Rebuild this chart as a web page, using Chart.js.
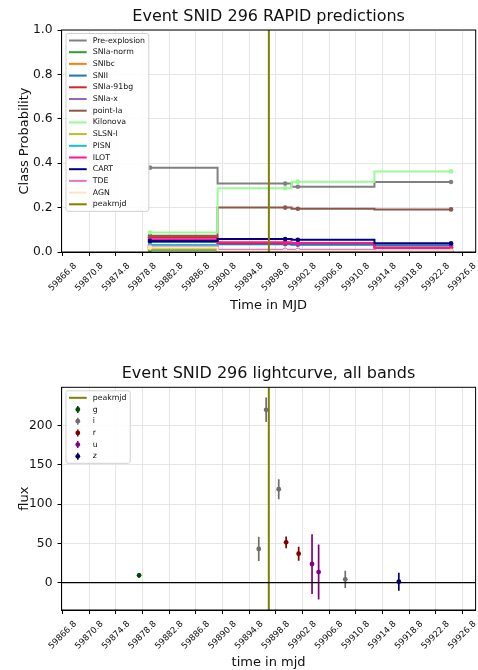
<!DOCTYPE html>
<html>
<head>
<meta charset="utf-8">
<script src="https://cdn.jsdelivr.net/npm/chart.js@4.4.0/dist/chart.umd.min.js"></script>
<style>
  html, body { margin: 0; padding: 0; background: #fff; }
  .box { position: relative; width: 478px; height: 335px; }
</style>
</head>
<body>
<div class="box"><canvas id="predChart"></canvas></div>
<div class="box"><canvas id="lcChart"></canvas></div>
<script>
// shared axis
const mjdTicks = [59866.8, 59870.8, 59874.8, 59878.8, 59882.8, 59886.8, 59890.8, 59894.8,
                  59898.8, 59902.8, 59906.8, 59910.8, 59914.8, 59918.8, 59922.8, 59926.8];
const mjdMin = 59866.62;
const mjdMax = 59928.8;
const peakMjd = 59897.75;

// RAPID predictions (one value per prediction time)
const predTimes = [59879.9, 59900.2, 59902.1, 59925.1];
const preExplosion = [0.380, 0.308, 0.294, 0.315];
const snIaNorm     = [0.010, 0.004, 0.004, 0.003];
const snIbc        = [0.020, 0.006, 0.006, 0.004];
const snII         = [0.045, 0.035, 0.033, 0.030];
const snIa91bg     = [0.066, 0.040, 0.040, 0.020];
const snIax        = [0.021, 0.009, 0.009, 0.005];
const pointIa      = [0.073, 0.200, 0.195, 0.192];
const kilonova     = [0.088, 0.287, 0.317, 0.363];
const slsnI        = [0.015, 0.003, 0.003, 0.002];
const pisn         = [0.032, 0.005, 0.005, 0.004];
const ilot         = [0.057, 0.044, 0.040, 0.018];
const cart         = [0.050, 0.058, 0.055, 0.039];
const tde          = [0.025, 0.010, 0.010, 0.006];
const agn          = [0.020, 0.005, 0.005, 0.004];

const classNames = ['Pre-explosion', 'SNIa-norm', 'SNIbc', 'SNII', 'SNIa-91bg', 'SNIa-x', 'point-Ia',
                    'Kilonova', 'SLSN-I', 'PISN', 'ILOT', 'CART', 'TDE', 'AGN'];
const classSeries = [preExplosion, snIaNorm, snIbc, snII, snIa91bg, snIax, pointIa,
                     kilonova, slsnI, pisn, ilot, cart, tde, agn];
const classColors = ['#808080', '#2ca02c', '#ff7f0e', '#1f77b4', '#d62728', '#9467bd', '#8c564b',
                     '#98fb98', '#bcbd22', '#17becf', '#ff1493', '#000080', '#e377c2', '#ffe4c4'];
const probTicks = [0, 0.2, 0.4, 0.6, 0.8, 1.0];

// lightcurve
const bandNames = ['g', 'i', 'r', 'u', 'z'];
const bandColors = ['#064706', '#6e6e6e', '#800000', '#800080', '#000066'];
const gTimes = [59878.27];
const gFlux  = [9.4];
const gErr   = [3];
const iTimes = [59896.24, 59897.35, 59899.24, 59909.23];
const iFlux  = [43, 220, 119, 4.3];
const iErr   = [15.5, 15.7, 12.7, 11];
const rTimes = [59900.35, 59902.23];
const rFlux  = [51.4, 36.9];
const rErr   = [7.4, 9];
const uTimes = [59904.24, 59905.23];
const uFlux  = [23.8, 13.6];
const uErr   = [38, 35];
const zTimes = [59917.27];
const zFlux  = [1.3];
const zErr   = [11.5];
const bandTimes = [gTimes, iTimes, rTimes, uTimes, zTimes];
const bandFlux = [gFlux, iFlux, rFlux, uFlux, zFlux];
const bandErr = [gErr, iErr, rErr, uErr, zErr];
const fluxTicks = [0, 50, 100, 150, 200];
const fluxMin = -34.7;
const fluxMax = 248.6;

const peakColor = '#808000';
const gridColor = '#e6e6e6';

Chart.defaults.font.family = 'DejaVu Sans';
Chart.defaults.color = '#111';
Chart.defaults.animation = false;

const frame = {
  id: 'frame',
  afterDatasetsDraw(chart) {
    const { ctx, chartArea: a } = chart;
    ctx.save();
    ctx.strokeStyle = '#000';
    ctx.lineWidth = 1;
    ctx.strokeRect(a.left, a.top, a.width, a.height);
    ctx.restore();
  }
};

const boxLegend = {
  id: 'boxLegend',
  afterDraw(chart) {
    const { ctx, chartArea: a } = chart;
    const items = chart.data.datasets.filter(d => d.handle);
    const rowH = 11.7;
    ctx.save();
    ctx.font = '7.8px "DejaVu Sans"';
    const textW = Math.max(...items.map(d => ctx.measureText(d.label).width));
    const left = a.left + 4.5;
    const top = a.top + 3.5;
    const w = 26.7 + textW + 3.8;
    const h = 7 + (items.length - 1) * rowH + 7;
    ctx.beginPath();
    ctx.roundRect(left, top, w, h, 2);
    ctx.fillStyle = 'rgba(255,255,255,0.85)';
    ctx.fill();
    ctx.strokeStyle = '#d0d0d0';
    ctx.lineWidth = 1;
    ctx.stroke();
    items.forEach((d, i) => {
      const cy = top + 7 + i * rowH;
      const col = d.borderColor || d.backgroundColor;
      if (d.handle === 'line') {
        ctx.strokeStyle = col;
        ctx.lineWidth = 2;
        ctx.beginPath();
        ctx.moveTo(left + 3, cy);
        ctx.lineTo(left + 20.7, cy);
        ctx.stroke();
      } else {
        const mx = left + 11.8;
        ctx.strokeStyle = d.backgroundColor;
        ctx.lineWidth = 1.5;
        ctx.beginPath();
        ctx.moveTo(mx, cy - 3.5);
        ctx.lineTo(mx, cy + 3.5);
        ctx.stroke();
        ctx.fillStyle = d.backgroundColor;
        ctx.beginPath();
        ctx.arc(mx, cy, 2.4, 0, Math.PI * 2);
        ctx.fill();
      }
      ctx.fillStyle = '#111';
      ctx.textBaseline = 'middle';
      ctx.fillText(d.label, left + 26.7, cy);
    });
    ctx.restore();
  }
};

const errorBars = {
  id: 'errorBars',
  beforeDatasetsDraw(chart) {
    const { ctx, chartArea: a, scales: { x, y } } = chart;
    ctx.save();
    ctx.beginPath();
    ctx.rect(a.left, a.top, a.width, a.height);
    ctx.clip();
    chart.data.datasets.forEach(ds => {
      if (!ds.errors) return;
      ctx.strokeStyle = ds.backgroundColor;
      ctx.lineWidth = 1.7;
      ds.data.forEach((p, k) => {
        const px = x.getPixelForValue(p.x);
        ctx.beginPath();
        ctx.moveTo(px, y.getPixelForValue(p.y - ds.errors[k]));
        ctx.lineTo(px, y.getPixelForValue(p.y + ds.errors[k]));
        ctx.stroke();
      });
    });
    ctx.restore();
  }
};

function mjdAxis(title, height, titlePad) {
  return {
    type: 'linear',
    min: mjdMin,
    max: mjdMax,
    afterBuildTicks: s => { s.ticks = mjdTicks.map(v => ({ value: v })); },
    afterFit: s => { s.height = height; },
    ticks: {
      autoSkip: false, minRotation: 45, maxRotation: 45, padding: 5, labelOffset: 12.5,
      font: { size: 8.6 }, callback: v => Number(v).toFixed(1)
    },
    grid: { color: gridColor, tickColor: '#000', tickLength: 4 },
    border: { color: '#000' },
    title: { display: true, text: title, font: { size: 13 }, padding: { top: 0, bottom: titlePad } }
  };
}

function valueAxis(title, min, max, ticks, fmt) {
  return {
    min, max,
    afterBuildTicks: s => { s.ticks = ticks.map(v => ({ value: v })); },
    afterFit: s => { s.width = 61.5; },
    ticks: { font: { size: 12.3 }, padding: 5, callback: fmt },
    grid: { color: gridColor, tickColor: '#000', tickLength: 4 },
    border: { color: '#000' },
    title: { display: true, text: title, font: { size: 13 }, padding: { top: 16.5, bottom: 0 } }
  };
}

const predDatasets = classNames.map((name, i) => ({
  label: name,
  data: predTimes.map((t, j) => ({ x: t, y: classSeries[i][j] })),
  borderColor: classColors[i],
  backgroundColor: classColors[i],
  borderWidth: 2,
  pointRadius: 2.3,
  pointBorderWidth: 0,
  pointHoverRadius: 2.3,
  stepped: 'middle',
  order: -i,
  handle: 'line'
}));
predDatasets.push({
  label: 'peakmjd',
  data: [{ x: peakMjd, y: -1 }, { x: peakMjd, y: 2 }],
  borderColor: peakColor,
  borderWidth: 2,
  pointRadius: 0,
  order: -50,
  handle: 'line'
});

new Chart(document.getElementById('predChart'), {
  type: 'line',
  data: { datasets: predDatasets },
  options: {
    responsive: true,
    maintainAspectRatio: false,
    events: [],
    layout: { padding: { right: 1.3 } },
    plugins: {
      legend: { display: false },
      tooltip: { enabled: false },
      title: {
        display: true, fullSize: false, text: 'Event SNID 296 RAPID predictions', color: '#111',
        font: { size: 16, weight: 'normal' }, padding: { top: 7, bottom: 3.8 }
      }
    },
    scales: {
      x: mjdAxis('Time in MJD', 83, 21.2),
      y: valueAxis('Class Probability', 0, 1, probTicks, v => Number(v).toFixed(1))
    }
  },
  plugins: [frame, boxLegend]
});

const lcDatasets = [{
  label: 'peakmjd',
  type: 'line',
  data: [{ x: peakMjd, y: -1000 }, { x: peakMjd, y: 1000 }],
  borderColor: peakColor,
  borderWidth: 2,
  pointRadius: 0,
  order: 2,
  handle: 'line'
}, {
  label: 'zero',
  type: 'line',
  data: [{ x: mjdMin - 10, y: 0 }, { x: mjdMax + 10, y: 0 }],
  borderColor: '#000',
  borderWidth: 1.2,
  pointRadius: 0,
  order: 1
}];
bandNames.forEach((b, i) => {
  lcDatasets.push({
    label: b,
    type: 'scatter',
    data: bandTimes[i].map((t, k) => ({ x: t, y: bandFlux[i][k] })),
    errors: bandErr[i],
    backgroundColor: bandColors[i],
    borderColor: bandColors[i],
    borderWidth: 0,
    pointRadius: 2.4,
    pointHoverRadius: 2.4,
    order: -i,
    handle: 'errorbar'
  });
});

new Chart(document.getElementById('lcChart'), {
  type: 'scatter',
  data: { datasets: lcDatasets },
  options: {
    responsive: true,
    maintainAspectRatio: false,
    events: [],
    layout: { padding: { right: 1.3 } },
    plugins: {
      legend: { display: false },
      tooltip: { enabled: false },
      title: {
        display: true, fullSize: false, text: 'Event SNID 296 lightcurve, all bands', color: '#111',
        font: { size: 16, weight: 'normal' }, padding: { top: 29.5, bottom: 3.6 }
      }
    },
    scales: {
      x: mjdAxis('time in mjd', 60, 0),
      y: valueAxis('flux', fluxMin, fluxMax, fluxTicks, v => String(Math.round(v)))
    }
  },
  plugins: [errorBars, frame, boxLegend]
});
</script>
</body>
</html>
